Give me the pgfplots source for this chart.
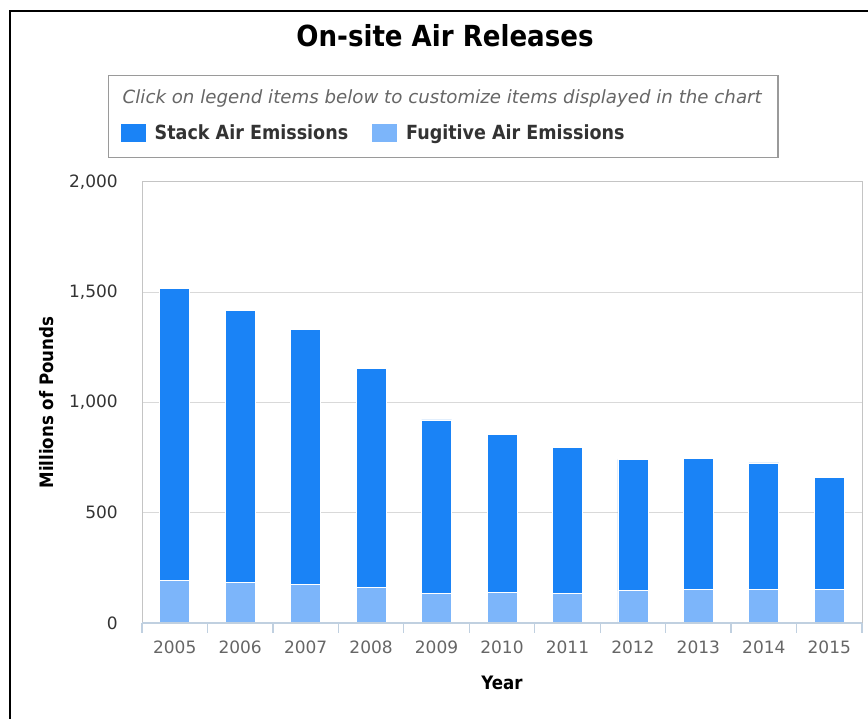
\documentclass[border=0pt]{standalone}
\usepackage{fontspec}
\setmainfont{DejaVu Sans Condensed}
\newfontfamily\widefont{DejaVu Sans}
\usepackage{pgfplots}
\pgfplotsset{compat=1.18}
\definecolor{stackc}{HTML}{1A83F6}
\definecolor{fugc}{HTML}{7CB5FA}
\definecolor{gridc}{HTML}{D9D9D9}
\definecolor{borderc}{HTML}{C4C4C4}
\definecolor{tickc}{HTML}{C0D0E0}
\definecolor{labc}{HTML}{666666}
\definecolor{txtc}{HTML}{333333}
\definecolor{legc}{HTML}{9A9A9A}
\begin{document}
\begin{tikzpicture}[x=1pt,y=1pt]
\useasboundingbox (0,0) rectangle (868,719);
\fill[white] (0,0) rectangle (868,719);
\draw[black,line width=2pt] (10,0) -- (10,708) -- (868,708);
\node[anchor=base,inner sep=0pt,font=\fontsize{29}{34}\selectfont\bfseries] at (445,672.3) {On-site Air Releases};
\draw[legc,line width=1.5pt] (108.3,561.3) rectangle (778,643.3);
\node[anchor=base west,inner sep=0pt,text=labc,font=\widefont\fontsize{18.2}{20}\selectfont\itshape] at (122.5,615) {Click on legend items below to customize items displayed in the chart};
\begin{axis}[
  at={(142pt,96pt)}, anchor=south west,
  width=720pt, height=441pt, scale only axis,
  xmin=-0.5, xmax=10.5, ymin=0, ymax=2000,
  ybar stacked, bar width=30pt,
  xtick={0,1,2,3,4,5,6,7,8,9,10},
  xticklabels={2005,2006,2007,2008,2009,2010,2011,2012,2013,2014,2015},
  ytick={0,500,1000,1500,2000},
  yticklabels={0,500,{1,000},{1,500},{2,000}},
  /pgf/number format/assume math mode=true,
  major tick length=0pt,
  xtick pos=bottom, ytick pos=left,
  ymajorgrids, grid style={gridc,line width=1pt},
  axis line style={borderc,line width=1pt},
  xticklabel style={anchor=base,inner sep=0pt,yshift=-31pt,text=labc,font=\widefont\fontsize{17}{20}\selectfont},
  yticklabel style={anchor=east,inner sep=0pt,xshift=-24pt,text=txtc,font=\widefont\fontsize{17}{20}\selectfont},
  extra x ticks={-0.5,0.5,1.5,2.5,3.5,4.5,5.5,6.5,7.5,8.5,9.5,10.5},
  extra x tick labels={},
  extra x tick style={major tick length=10pt, tick align=outside, tick style={tickc,line width=1.2pt}, grid=none},
  xlabel={Year}, ylabel={Millions of Pounds},
  xlabel style={at={(axis description cs:0.5,-0.1519)},anchor=base,inner sep=0pt,font=\fontsize{18.5}{22}\selectfont\bfseries},
  ylabel style={at={(axis description cs:-0.1324,0.5)},anchor=center,inner sep=0pt,font=\fontsize{18.5}{22}\selectfont\bfseries},
  legend columns=2, reverse legend,
  legend image code/.code={\fill[#1,draw=none] (0pt,-9pt) rectangle (25pt,9pt);},
  legend style={at={(axis description cs:-0.0296,1.1104)},anchor=west,draw=none,fill=none,inner sep=0pt,outer sep=0pt,
    font=\fontsize{19.5}{22}\selectfont\bfseries, text=txtc,
    cells={anchor=west,inner sep=0pt},
    /tikz/every odd column/.append style={column sep=7pt},
    /tikz/every even column/.append style={column sep=22pt}},
  after end axis/.code={\draw[tickc,line width=1.5pt] (rel axis cs:0,0) -- (rel axis cs:1,0);},
]
\addplot[fill=fugc,draw=white,line width=0.8pt] coordinates {(0,191) (1,184) (2,176) (3,161) (4,132) (5,140) (6,132) (7,146) (8,154) (9,154) (10,154)};
\addlegendentry{Fugitive Air Emissions}
\addplot[fill=stackc,draw=white,line width=0.8pt] coordinates {(0,1327) (1,1234) (2,1155) (3,993) (4,789) (5,717) (6,666) (7,596) (8,594) (9,572) (10,507)};
\addlegendentry{Stack Air Emissions}
\end{axis}
\end{tikzpicture}
\end{document}
